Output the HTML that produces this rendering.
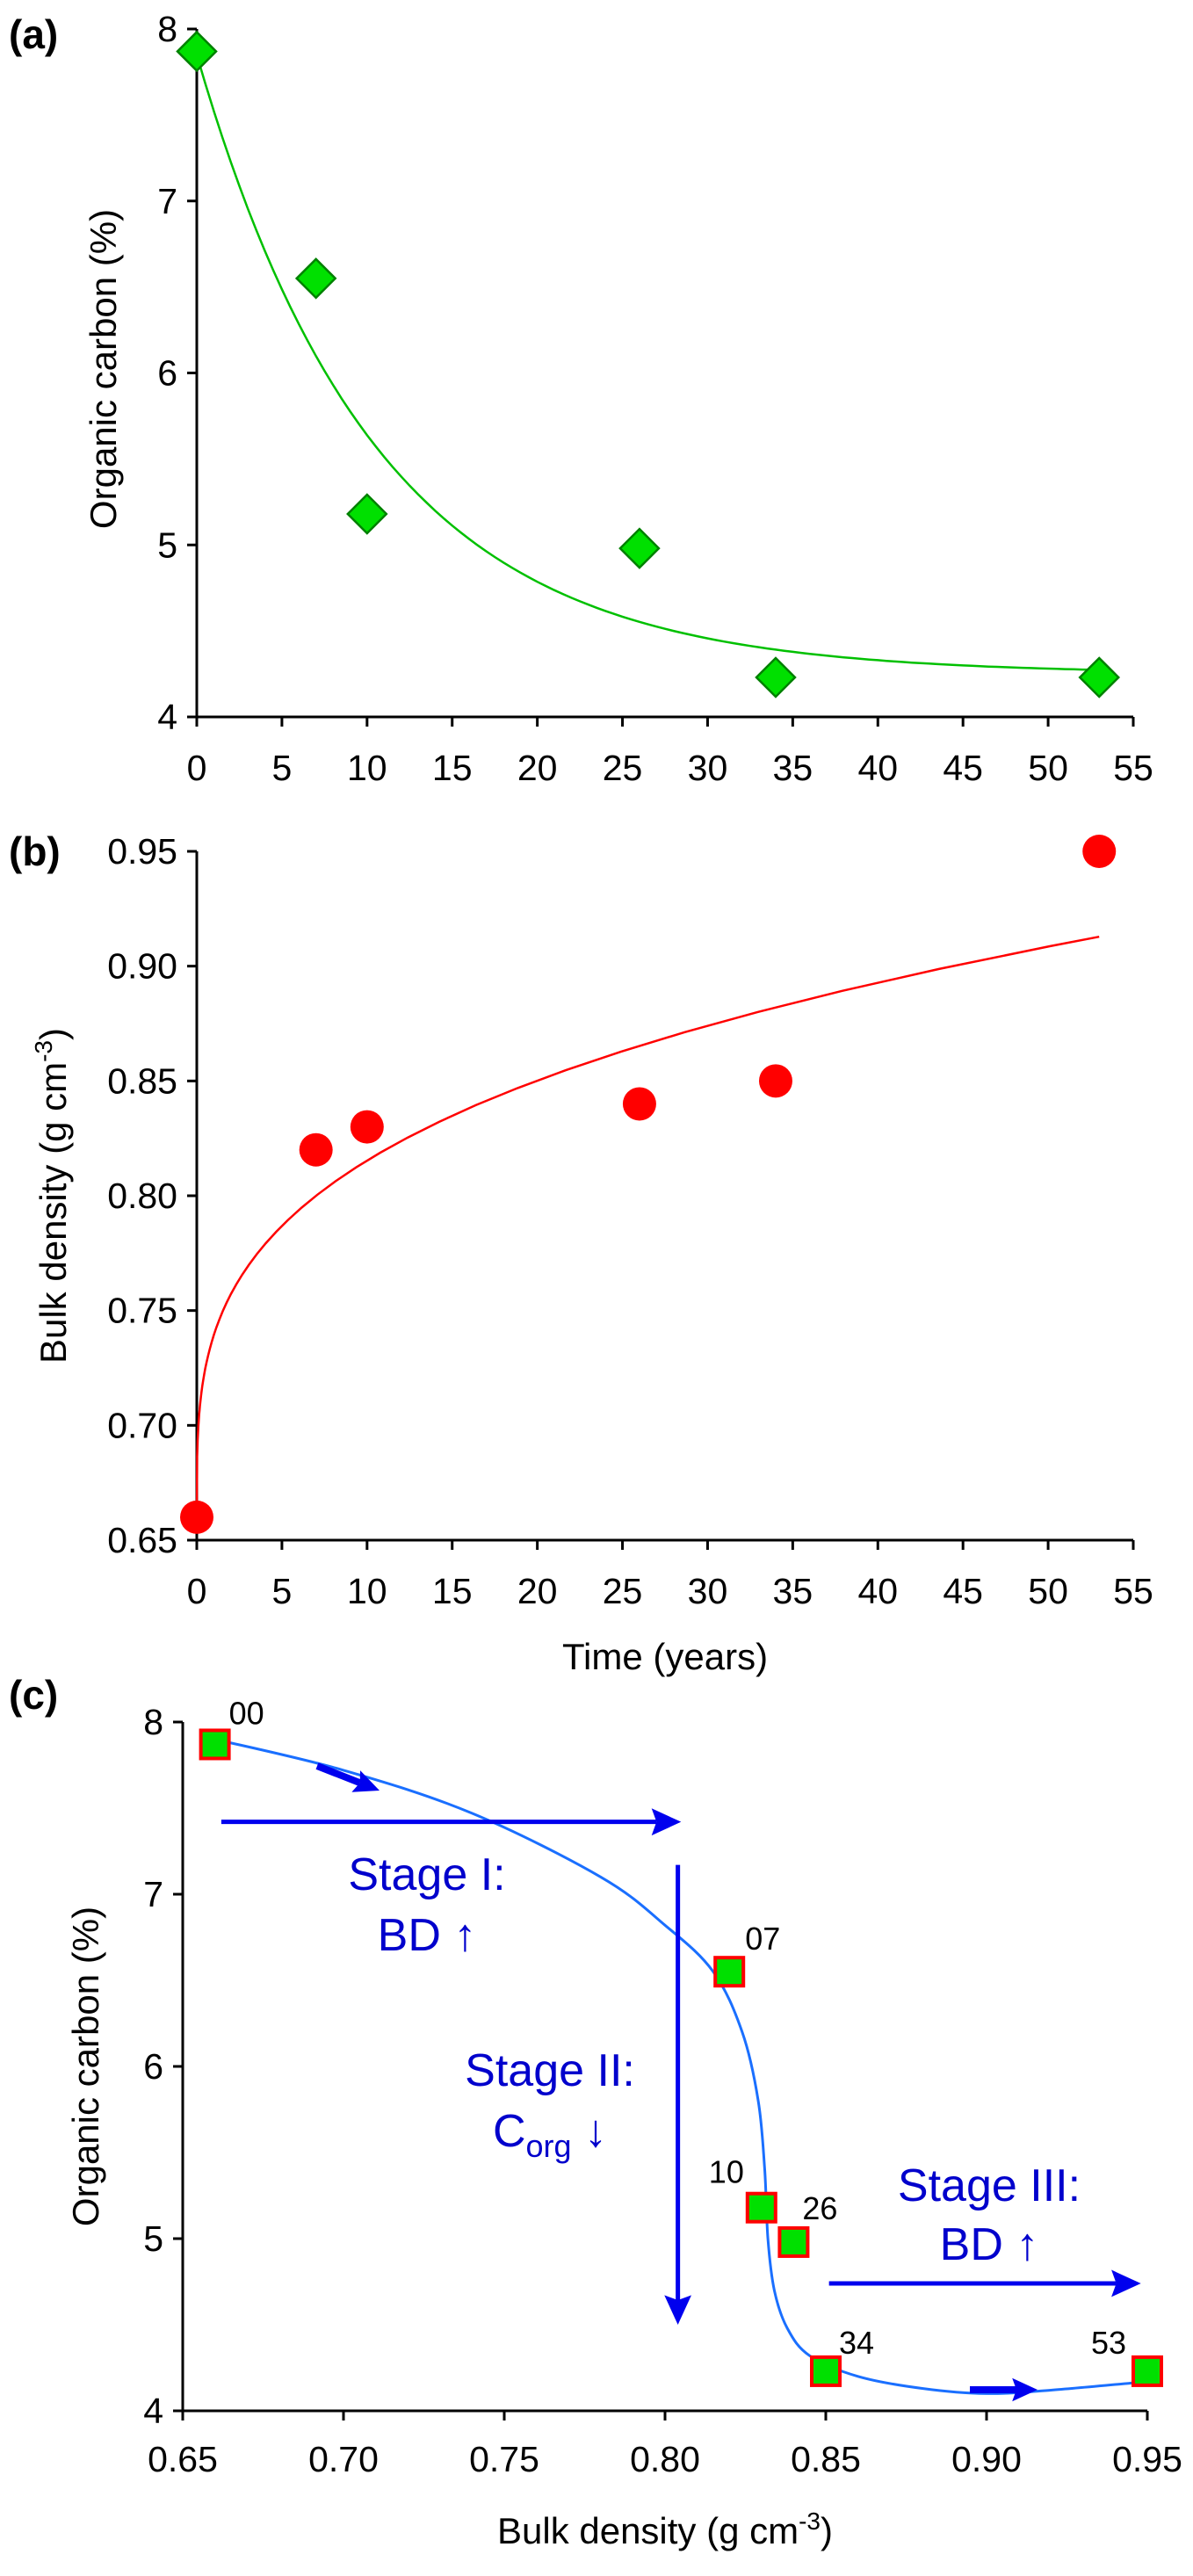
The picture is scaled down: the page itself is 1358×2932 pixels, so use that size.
<!DOCTYPE html>
<html><head><meta charset="utf-8"><style>
html,body{margin:0;padding:0;background:#fff;}
svg{display:block;font-family:"Liberation Sans",Arial,sans-serif;}
</style></head><body>
<svg id="fig" width="1358" height="2932" viewBox="0 0 1358 2932" xmlns="http://www.w3.org/2000/svg"></svg>
<script>
// ---- data ----
const years = [0, 7, 10, 26, 34, 53];
const organicCarbon = [7.87, 6.55, 5.18, 4.98, 4.23, 4.23];
const bulkDensity = [0.66, 0.82, 0.83, 0.84, 0.85, 0.95];
const pointLabels = ["00", "07", "10", "26", "34", "53"];
const timeTicks = [0, 5, 10, 15, 20, 25, 30, 35, 40, 45, 50, 55];
const ocTicks = [4, 5, 6, 7, 8];
const bdTicks = [0.65, 0.70, 0.75, 0.80, 0.85, 0.90, 0.95];
const bdTickLabels = ["0.65", "0.70", "0.75", "0.80", "0.85", "0.90", "0.95"];
// fitted curve (panel c)
const fitBD = [0.66, 0.70, 0.74, 0.78, 0.80, 0.815, 0.824, 0.829, 0.831, 0.832, 0.834, 0.838, 0.845, 0.86, 0.88, 0.90, 0.92, 0.95];
const fitOC = [7.90, 7.72, 7.47, 7.10, 6.82, 6.55, 6.20, 5.80, 5.40, 5.00, 4.70, 4.48, 4.32, 4.20, 4.13, 4.10, 4.12, 4.17];

const svg = document.getElementById('fig');
const NS = 'http://www.w3.org/2000/svg';
function mk(tag, attrs, parent) {
  const e = document.createElementNS(NS, tag);
  for (const k in attrs) e.setAttribute(k, attrs[k]);
  (parent || svg).appendChild(e);
  return e;
}
function txt(str, attrs, parent) { const t = mk('text', attrs, parent); t.textContent = str; return t; }
function lin(d0, d1, r0, r1) { return v => r0 + (v - d0) / (d1 - d0) * (r1 - r0); }

// ---- scales ----
const xT = lin(0, 55, 224, 1290);
const yA = lin(4, 8, 816, 33);
const yB = lin(0.65, 0.95, 1753, 969);
const xC = lin(0.65, 0.95, 208, 1306);
const yC = lin(4, 8, 2744, 1960);

function axes(g, x0, x1, y0, y1, xticks, xlab, xf, yticks, ylab, yf, labY) {
  mk('line', {x1: x0, y1: y0, x2: x1, y2: y0, stroke: '#000', 'stroke-width': 3}, g);
  mk('line', {x1: x0, y1: y0, x2: x0, y2: y1, stroke: '#000', 'stroke-width': 3}, g);
  xticks.forEach((v, i) => {
    const x = xf(v);
    mk('line', {x1: x, y1: y0, x2: x, y2: y0 + 11, stroke: '#000', 'stroke-width': 3}, g);
    const t = txt(xlab[i], {x: x, y: labY, 'font-size': 41, 'text-anchor': 'middle', fill: '#000'}, g);
    
    
  });
  yticks.forEach((v, i) => {
    const y = yf(v);
    mk('line', {x1: x0 - 11, y1: y, x2: x0, y2: y, stroke: '#000', 'stroke-width': 3}, g);
    const t = txt(ylab[i], {x: x0 - 22, y: y + 14, 'font-size': 41, 'text-anchor': 'end', fill: '#000'}, g);
    
    
  });
}
function group(name) { const g = mk('g', {});   return g; }

// ================= Panel A =================
const gA = group('panel-a');
axes(gA, 224, 1290, 816, 33, timeTicks, timeTicks.map(String), xT, ocTicks, ocTicks.map(String), yA, 888);
txt('(a)', {x: 10, y: 55, 'font-size': 46, 'font-weight': 'bold'}, gA);
const ta = txt('Organic carbon (%)', {x: 0, y: 0, 'font-size': 42, 'text-anchor': 'middle', transform: 'translate(132,420) rotate(-90)'}, gA);

let dA = '';
for (let t = 0; t <= 53; t += 0.5) {
  const v = 4.25 + 3.6 * Math.exp(-t / 10.5);
  dA += (t === 0 ? 'M' : 'L') + xT(t).toFixed(1) + ',' + yA(v).toFixed(1);
}
mk('path', {d: dA, fill: 'none', stroke: '#00c000', 'stroke-width': 2.5}, gA);
years.forEach((t, i) => {
  const cx = xT(t), cy = yA(organicCarbon[i]), r = 22;
  const p = mk('polygon', {points: `${cx},${cy - r} ${cx + r},${cy} ${cx},${cy + r} ${cx - r},${cy}`, fill: '#00e000', stroke: '#008000', 'stroke-width': 2.5}, gA);
  
  
});

// ================= Panel B =================
const gB = group('panel-b');
axes(gB, 224, 1290, 1753, 969, timeTicks, timeTicks.map(String), xT, bdTicks, bdTickLabels, yB, 1825);
txt('(b)', {x: 10, y: 985, 'font-size': 46, 'font-weight': 'bold'}, gB);
const tb = mk('text', {'font-size': 42, 'text-anchor': 'middle', transform: 'translate(75,1361) rotate(-90)'}, gB);

tb.innerHTML = 'Bulk density (g cm<tspan dy="-16" font-size="28">-3</tspan><tspan dy="16">)</tspan>';
const tx = txt('Time (years)', {x: 757, y: 1900, 'font-size': 42, 'text-anchor': 'middle'}, gB);

let dB = 'M' + xT(0) + ',' + yB(0.66);
for (let t = 0.02; t <= 53; t *= 1.15) {
  dB += 'L' + xT(t).toFixed(1) + ',' + yB(0.66 + 0.0793 * Math.pow(t, 0.292)).toFixed(1);
}
dB += 'L' + xT(53).toFixed(1) + ',' + yB(0.66 + 0.0793 * Math.pow(53, 0.292)).toFixed(1);
mk('path', {d: dB, fill: 'none', stroke: '#ff0000', 'stroke-width': 2.5}, gB);
years.forEach((t, i) => {
  const c = mk('circle', {cx: xT(t), cy: yB(bulkDensity[i]), r: 19, fill: '#ff0000'}, gB);
  
  
});

// ================= Panel C =================
const gC = group('panel-c');
axes(gC, 208, 1306, 2744, 1960, bdTicks, bdTickLabels, xC, ocTicks, ocTicks.map(String), yC, 2813);
txt('(c)', {x: 10, y: 1945, 'font-size': 46, 'font-weight': 'bold'}, gC);
const tc = txt('Organic carbon (%)', {'font-size': 42, 'text-anchor': 'middle', transform: 'translate(112,2352) rotate(-90)'}, gC);

const tcx = mk('text', {x: 757, y: 2895, 'font-size': 42, 'text-anchor': 'middle'}, gC);

tcx.innerHTML = 'Bulk density (g cm<tspan dy="-16" font-size="28">-3</tspan><tspan dy="16">)</tspan>';

const pts = fitBD.map((b, i) => [xC(b), yC(fitOC[i])]);
let dC = 'M' + pts[0][0] + ',' + pts[0][1];
for (let i = 0; i < pts.length - 1; i++) {
  const p0 = pts[Math.max(0, i - 1)], p1 = pts[i], p2 = pts[i + 1], p3 = pts[Math.min(pts.length - 1, i + 2)];
  const c1 = [p1[0] + (p2[0] - p0[0]) / 6, p1[1] + (p2[1] - p0[1]) / 6];
  const c2 = [p2[0] - (p3[0] - p1[0]) / 6, p2[1] - (p3[1] - p1[1]) / 6];
  dC += `C${c1[0].toFixed(1)},${c1[1].toFixed(1)} ${c2[0].toFixed(1)},${c2[1].toFixed(1)} ${p2[0].toFixed(1)},${p2[1].toFixed(1)}`;
}
mk('path', {d: dC, fill: 'none', stroke: '#1a6fff', 'stroke-width': 3}, gC);

const blue = '#0000ee';
function arrow(x1, y1, x2, y2, w, head, name) {
  const ang = Math.atan2(y2 - y1, x2 - x1);
  const bx = x2 - head * Math.cos(ang), by = y2 - head * Math.sin(ang);
  mk('line', {x1, y1, x2: bx, y2: by, stroke: blue, 'stroke-width': w}, gC);
  const hw = head * 0.55, nx = -Math.sin(ang), ny = Math.cos(ang);
  const bb = x2 - head * 1.2 * Math.cos(ang), bby = y2 - head * 1.2 * Math.sin(ang);
  mk('polygon', {points: `${x2},${y2} ${bb + nx * hw},${bby + ny * hw} ${bx},${by} ${bb - nx * hw},${bby - ny * hw}`, fill: blue}, gC);
}
arrow(xC(0.662), yC(7.42), xC(0.805), yC(7.42), 5, 28, 'stage-1-arrow');
arrow(xC(0.804), yC(7.17), xC(0.804), yC(4.5), 5, 28, 'stage-2-arrow');
arrow(xC(0.851), yC(4.74), xC(0.948), yC(4.74), 5, 28, 'stage-3-arrow');
arrow(361, 2010, 432, 2038, 8, 24, 'curve-direction-arrow-1');
arrow(1104, 2720, 1181, 2720, 8, 24, 'curve-direction-arrow-2');

function stext(str, x, y, name) { const t = mk('text', {x, y, 'font-size': 52, 'text-anchor': 'middle', fill: '#0000cc'}, gC); t.innerHTML = str;  return t; }
stext('Stage I:', 486, 2151, 'stage-1-title');
stext('BD ↑', 486, 2220, 'stage-1-subtitle');
stext('Stage II:', 626, 2374, 'stage-2-title');
stext('C<tspan dy="12" font-size="36">org</tspan><tspan dy="-12"> ↓</tspan>', 626, 2443, 'stage-2-subtitle');
stext('Stage III:', 1126, 2505, 'stage-3-title');
stext('BD ↑', 1126, 2572, 'stage-3-subtitle');

const lblOffsets = [[16, -23], [18, -25], [-60, -28], [10, -26], [15, -20], [-64, -20]];
bulkDensity.forEach((b, i) => {
  const cx = xC(b), cy = yC(organicCarbon[i]);
  const r = mk('rect', {x: cx - 16, y: cy - 16, width: 32, height: 32, fill: '#00e000', stroke: '#ff0000', 'stroke-width': 4}, gC);
  
  
  const t = txt(pointLabels[i], {x: cx + lblOffsets[i][0], y: cy + lblOffsets[i][1], 'font-size': 36}, gC);
  
  
});
</script>
</body></html>
